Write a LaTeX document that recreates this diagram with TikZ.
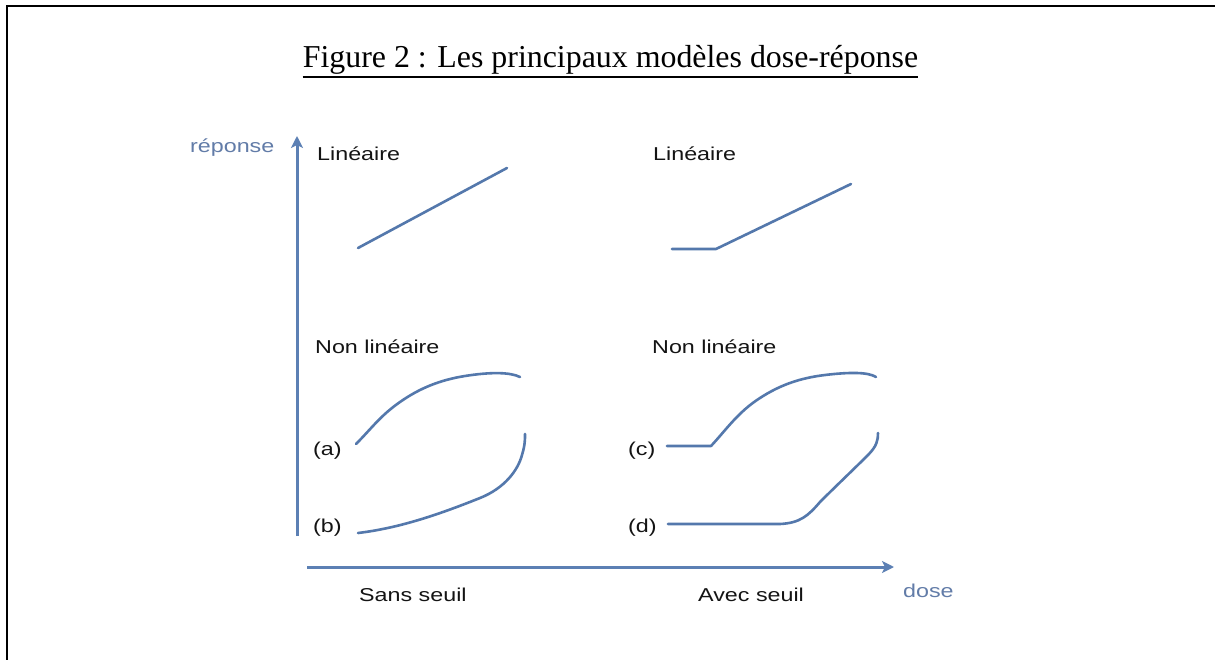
\documentclass[tikz,border=0pt]{standalone}
\usepackage{fontspec}
\setmainfont{Liberation Serif}
\newfontfamily\arialfont{Liberation Sans}
\usetikzlibrary{arrows.meta}
\definecolor{curveblue}{RGB}{84,120,172}
\definecolor{axisblue}{RGB}{92,128,180}
\definecolor{labelblue}{RGB}{98,124,168}
\definecolor{txtgray}{RGB}{20,20,20}
\newcommand{\wtext}[1]{\scalebox{1.25}[1]{#1}}
\tikzset{
  lbl/.style={anchor=base west, inner sep=0pt, text=txtgray, font=\arialfont\fontsize{18.7}{22}\selectfont},
  axlbl/.style={lbl, text=labelblue},
  curve/.style={draw=curveblue, line width=2.6bp, line join=round, line cap=round},
  axisline/.style={draw=axisblue, line width=3bp, -{Stealth[length=12bp, width=12bp, inset=3bp]}},
  frameline/.style={draw=black, line width=2.8bp}
}
\begin{document}
\begin{tikzpicture}[x=1bp, y=-1bp]
\useasboundingbox (0,0) rectangle (1215,660);
\fill[white] (0,0) rectangle (1215,660);
% frame (left and top edges)
\draw[frameline] (7,660) -- (7,6) -- (1215,6);
% title
\node[anchor=base, inner sep=0pt, font=\fontsize{32}{38}\selectfont] (title) at (610.5,68) {Figure 2 : Les principaux modèles dose-réponse};
\draw[line width=1.4bp] ([yshift=-9bp]title.base west) -- ([yshift=-9bp]title.base east);
% axes
\coordinate (ybot) at (297,536);
\coordinate (ytop) at (297,136);
\coordinate (xleft) at (307,567);
\coordinate (xright) at (894,567);
\draw[axisline] (ybot) -- (ytop);
\draw[axisline] (xleft) -- (xright);
\node[axlbl] (reponse) at (190,153) {\wtext{réponse}};
\node[axlbl] (dose) at (903,597) {\wtext{dose}};
% labels
\node[lbl] (lin1) at (317,161) {\wtext{Linéaire}};
\node[lbl] (lin2) at (653,161) {\wtext{Linéaire}};
\node[lbl] (nl1) at (315,353) {\wtext{Non linéaire}};
\node[lbl] (nl2) at (652,353) {\wtext{Non linéaire}};
\node[lbl] (la) at (313,455) {\wtext{(a)}};
\node[lbl] (lb) at (313,532) {\wtext{(b)}};
\node[lbl] (lc) at (628,455) {\wtext{(c)}};
\node[lbl] (ld) at (628,532) {\wtext{(d)}};
\node[lbl] (sans) at (359,601) {\wtext{Sans seuil}};
\node[lbl] (avec) at (698,601) {\wtext{Avec seuil}};
% linear, no threshold
\draw[curve] (358,248) -- (507,168);
% linear, threshold
\draw[curve] (672,249) -- (716,249) -- (851,184);
% (a)
\draw[curve] (356,444) .. controls (372,428) and (380,416) .. (400,402)
  .. controls (420,388) and (440,380) .. (465,376)
  .. controls (490,372) and (510,372) .. (520,377);
% (b)
\draw[curve] (358,533) .. controls (400,528) and (440,514) .. (480,498)
  .. controls (505,488) and (518,470) .. (522,455)
  .. controls (525,445) and (525,440) .. (525,434);
% (c)
\draw[curve] (667,446) -- (711,446) .. controls (726,430) and (738,412) .. (760,398)
  .. controls (780,385) and (800,378) .. (825,375)
  .. controls (850,372) and (868,372) .. (876,377);
% (d)
\draw[curve] (668,524) -- (780,524) .. controls (800,523) and (808,516) .. (820,502)
  .. controls (835,487) and (855,468) .. (868,455)
  .. controls (877,446) and (878,440) .. (878,433);
\end{tikzpicture}
\end{document}
